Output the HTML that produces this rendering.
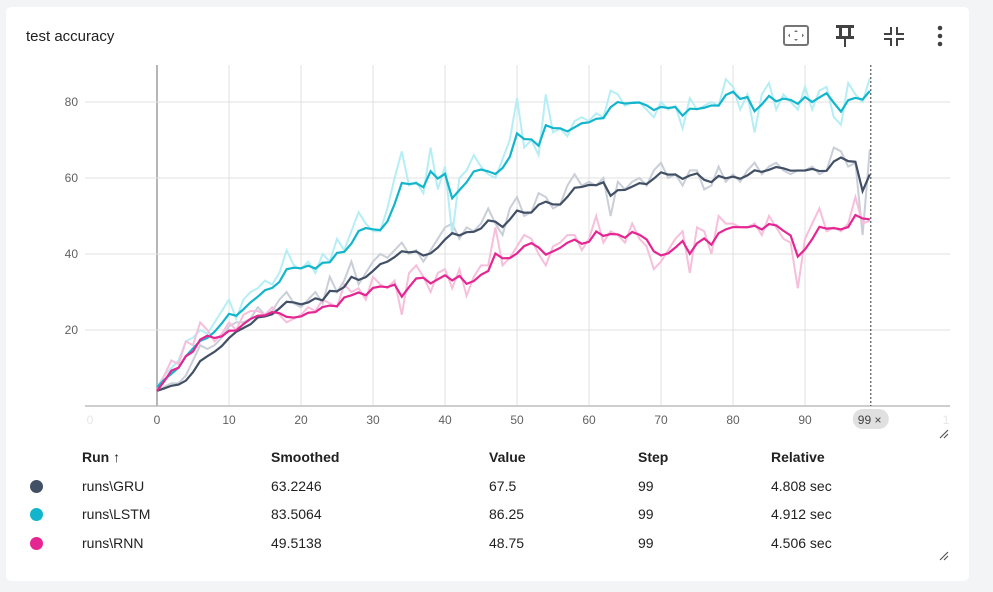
<!DOCTYPE html>
<html><head><meta charset="utf-8"><style>
body{margin:0;width:993px;height:592px;background:#f3f4f6;font-family:"Liberation Sans",sans-serif;overflow:hidden;position:relative}
.card{position:absolute;left:6px;top:7px;width:963px;height:574px;background:#fff;border-radius:5px}
.title{position:absolute;left:26px;top:28px;font-size:15px;color:#212121}
.t{position:absolute;font-size:14px;color:#212121}
.h{font-weight:bold}
.dot{position:absolute;width:13px;height:13px;border-radius:50%}
</style></head><body>
<div class="card"></div>
<div class="title">test accuracy</div>
<svg width="993" height="592" style="position:absolute;left:0;top:0">
<g><rect x="784" y="26" width="24" height="19" rx="2" fill="none" stroke="#757575" stroke-width="2"/><path d="M796 30l-2 2h4zM796 41l-2-2h4zM788 35.5l2-2v4zM804 35.5l-2-2v4z" fill="#757575"/></g>
<g fill="#424242"><rect x="836" y="25" width="18" height="3"/><rect x="839" y="27" width="3" height="10"/><rect x="848" y="27" width="3" height="10"/><rect x="836" y="36" width="18" height="3"/><rect x="844" y="38" width="2" height="9"/></g>
<g fill="#424242"><path d="M884 33h6v-6h2v8h-8zM904 33h-6v-6h-2v8h8zM884 38h8v8h-2v-6h-6zM904 38h-8v8h2v-6h6z"/></g>
<g fill="#424242"><circle cx="940" cy="28" r="2.3"/><circle cx="940" cy="36" r="2.3"/><circle cx="940" cy="44" r="2.3"/></g>
<g id="grid"></g><g id="series"></g>
<text x="90" y="424" text-anchor="middle" font-size="12" fill="#e6e6e6">0</text>
<text x="946" y="424" text-anchor="middle" font-size="12" fill="#e6e6e6">1</text>
<path d="M940 438l8-8M944 438l4-4" stroke="#555" stroke-width="1.2"/>
<path d="M940 560l8-8M944 560l4-4" stroke="#555" stroke-width="1.2"/>
</svg>
<div class="t h" style="left:82px;top:449px">Run ↑</div>
<div class="t h" style="left:271px;top:449px">Smoothed</div>
<div class="t h" style="left:489px;top:449px">Value</div>
<div class="t h" style="left:638px;top:449px">Step</div>
<div class="t h" style="left:771px;top:449px">Relative</div>
<div class="dot" style="left:30px;top:480px;background:#425066"></div>
<div class="t" style="left:82px;top:478px">runs\GRU</div>
<div class="t" style="left:271px;top:478px">63.2246</div>
<div class="t" style="left:489px;top:478px">67.5</div>
<div class="t" style="left:638px;top:478px">99</div>
<div class="t" style="left:771px;top:478px">4.808 sec</div>
<div class="dot" style="left:30px;top:508px;background:#12b5cb"></div>
<div class="t" style="left:82px;top:506px">runs\LSTM</div>
<div class="t" style="left:271px;top:506px">83.5064</div>
<div class="t" style="left:489px;top:506px">86.25</div>
<div class="t" style="left:638px;top:506px">99</div>
<div class="t" style="left:771px;top:506px">4.912 sec</div>
<div class="dot" style="left:30px;top:537px;background:#e52592"></div>
<div class="t" style="left:82px;top:535px">runs\RNN</div>
<div class="t" style="left:271px;top:535px">49.5138</div>
<div class="t" style="left:489px;top:535px">48.75</div>
<div class="t" style="left:638px;top:535px">99</div>
<div class="t" style="left:771px;top:535px">4.506 sec</div>
<script>
const xTicks=[0,10,20,30,40,50,60,70,80,90];
const yTicks=[20,40,60,80];
const lstm=[5,8,10,12,17,18,20,19,22,25,28,23,28,30,31,33,32,35,41,37,36,38,35,40,38,44,41,46,51,48,46,46,52,60,67,58,59,56,68,57,63,45,60,62,66,63,61,60,65,70,81,68,70,66,82,72,73,71,75,76,75,77,76,83,82,79,80,80,78,76,80,78,79,73,81,78,79,80,79,86,84,78,82,72,82,85,78,82,80,78,84,78,83,84,76,74,85,82,80,86.25];
const gru=[4,5,6,6,8,12,16,15,16,18,21,22,22,23,26,24,25,28,30,27,26,28,30,27,34,30,33,38,32,35,38,40,39,41,43,40,41,38,41,44,47,48,44,47,46,48,52,48,45,52,55,50,51,56,55,52,53,58,61,58,59,58,60,50,59,57,59,60,58,62,64,60,61,58,62,62,57,58,63,59,61,59,62,64,61,63,64,62,61,62,62,63,61,62,68,67,63,64,45,67.5];
const rnn=[4,8,12,11,17,16,22,20,17,19,22,20,24,25,25,24,26,24,22,23,24,26,25,28,27,26,32,30,31,28,34,32,31,33,24,35,37,34,30,35,36,31,36,29,34,37,37,47,37,39,42,45,44,40,37,42,43,45,45,41,44,50,43,46,45,43,48,44,42,36,38,41,44,46,35,47,46,40,50,48,48,47,47,48,45,50,47,44,43,31,44,48,52,46,47,46,48,55,48,48.75];
const NS='http://www.w3.org/2000/svg';
const X=s=>157+7.2*s, Y=v=>406-3.8*v;
function mk(t,a,p){const e=document.createElementNS(NS,t);for(const k in a)e.setAttribute(k,a[k]);p.appendChild(e);return e;}
const g=document.getElementById('grid'), sg=document.getElementById('series');
for(const t of xTicks){const l=mk('line',{x1:X(t),x2:X(t),y1:65,y2:406,stroke:t===0?'#9e9e9e':'#e0e0e0','stroke-width':t===0?1.5:1},g);


const tx=mk('text',{x:X(t),y:424,'text-anchor':'middle','font-size':12,fill:'#616161','font-family':'Liberation Sans'},g);tx.textContent=t;

}
for(const t of yTicks){const l=mk('line',{x1:85,x2:950,y1:Y(t),y2:Y(t),stroke:'#e0e0e0'},g);


const tx=mk('text',{x:78,y:Y(t)+4,'text-anchor':'end','font-size':12,fill:'#616161','font-family':'Liberation Sans'},g);tx.textContent=t;

}
const ax=mk('line',{x1:85,x2:950,y1:406,y2:406,stroke:'#bdbdbd','stroke-width':1.5},g);


function ema(a,w){let last=0,n=0,out=[];for(const v of a){last=last*w+(1-w)*v;n++;out.push(last/(1-Math.pow(w,n)));}return out;}
function pts(a){return a.map((v,i)=>X(i)+','+Y(v)).join(' ');}
const runs=[['gru',gru,'#425066','#c9ced8'],['lstm',lstm,'#12b5cb','#b5eef5'],['rnn',rnn,'#e52592','#f6bfdc']];
for(const [n,d,c,lc] of runs){const r=mk('polyline',{points:pts(d),fill:'none',stroke:lc,'stroke-width':2},sg);

}
for(const [n,d,c,lc] of runs){const s=mk('polyline',{points:pts(ema(d,0.6)),fill:'none',stroke:c,'stroke-width':2.2},sg);

}
const last=gru.length-1;
const cur=mk('line',{x1:X(last)+1,x2:X(last)+1,y1:65,y2:406,stroke:'#333','stroke-dasharray':'2,2'},sg);


const chip=mk('rect',{x:X(last)-17,y:409,width:36,height:20,rx:10,fill:'#e0e0e0'},sg);


const ct=mk('text',{x:X(last)-12,y:424,'font-size':12,fill:'#424242','font-family':'Liberation Sans'},sg);ct.textContent=last+' ×';


</script>
</body></html>
